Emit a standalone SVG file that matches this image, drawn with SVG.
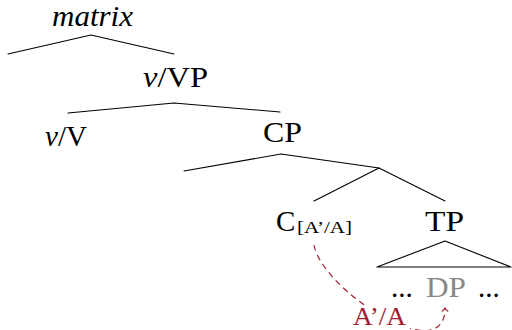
<svg xmlns="http://www.w3.org/2000/svg" width="512" height="330" viewBox="0 0 512 330">
<style>
.t { font-family: "Liberation Serif", "DejaVu Serif", serif; font-size: 29px; fill: #000; }
.it { font-style: italic; }
.red { fill: #A51C30; }
.gray { fill: #888; }
.edge { stroke: #000; stroke-width: 1.1; fill: none; stroke-linecap: round; stroke-linejoin: round; }
.mv { stroke: #A51C30; stroke-width: 1.2; fill: none; stroke-dasharray: 6 4.5; }
</style>
<defs>
<marker id="ah" viewBox="-5 -5 7 10" markerWidth="7" markerHeight="10" refX="0" refY="0" orient="auto" markerUnits="userSpaceOnUse">
<path d="M-3.5,-3.2 Q-1.2,-0.6 0,0 Q-1.2,0.6 -3.5,3.2" fill="none" stroke="#A51C30" stroke-width="1.1"/>
</marker>
</defs>
<rect width="512" height="330" fill="#fff"/>
<g id="connectors">
<polyline class="edge" points="8,54 91,35 174,54"/>
<polyline class="edge" points="68,113 174,103 280,112"/>
<polyline class="edge" points="184,171 281,154 379,168"/>
<polyline class="edge" points="314,201 379,168 445,201"/>
<polygon class="edge" points="445,241 377,267 511,267"/>
<path class="mv" d="M314,245 C322,290 445,370 445,308" marker-end="url(#ah)"/>
</g>
<g id="matrix"><text class="t it" x="52" y="26" textLength="81" lengthAdjust="spacingAndGlyphs">matrix</text></g>
<g id="vVP"><text class="t" x="143" y="87" textLength="65" lengthAdjust="spacingAndGlyphs"><tspan class="it">v</tspan>/VP</text></g>
<g id="vV"><text class="t" x="45" y="146" textLength="42" lengthAdjust="spacingAndGlyphs"><tspan class="it">v</tspan>/V</text></g>
<g id="CP"><text class="t" x="263" y="142" textLength="39" lengthAdjust="spacingAndGlyphs">CP</text></g>
<g id="C"><text class="t" x="276" y="231">C<tspan x="297" y="233" font-size="17" textLength="55" lengthAdjust="spacingAndGlyphs">[A’/A]</tspan></text></g>
<g id="TP"><text class="t" x="425" y="231" textLength="39" lengthAdjust="spacingAndGlyphs">TP</text></g>
<g id="TPcontent"><text class="t" y="297"><tspan x="391">...</tspan><tspan x="426" class="gray" textLength="40" lengthAdjust="spacingAndGlyphs">DP</tspan><tspan x="478">...</tspan></text></g>
<g id="label">
<rect x="350" y="306" width="60" height="24" fill="#fff"/>
<text class="t red" x="353" y="325" font-size="25" style="font-size:25px" textLength="53" lengthAdjust="spacingAndGlyphs">A’/A</text>
</g>
</svg>
